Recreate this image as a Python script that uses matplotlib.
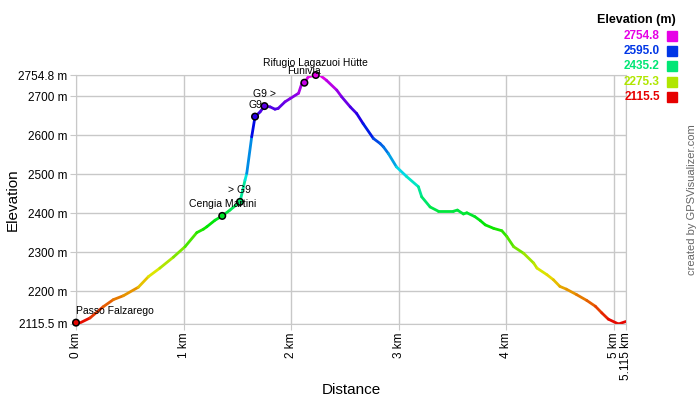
import numpy as np
import matplotlib
matplotlib.use('Agg')
import matplotlib.pyplot as plt
from matplotlib.collections import LineCollection
from matplotlib.colors import LinearSegmentedColormap, Normalize, hsv_to_rgb
from matplotlib.patches import Rectangle

plt.rcParams['font.family'] = ['Liberation Sans', 'DejaVu Sans']

# profile
dist_km = [0.0, 0.02, 0.13, 0.254, 0.347, 0.44, 0.58, 0.673, 0.78, 0.905, 1.014,
           1.123, 1.185, 1.216, 1.293, 1.36, 1.432, 1.525, 1.572, 1.588, 1.634,
           1.665, 1.712, 1.753, 1.805, 1.85, 1.88, 1.944, 1.99, 2.07, 2.10, 2.124,
           2.16, 2.23, 2.27, 2.33, 2.425, 2.47, 2.55, 2.61, 2.67, 2.765, 2.828,
           2.86, 2.905, 2.98, 3.075, 3.184, 3.215, 3.293, 3.37, 3.51, 3.547,
           3.603, 3.635, 3.71, 3.76, 3.806, 3.884, 3.96, 4.007, 4.07, 4.163,
           4.256, 4.287, 4.38, 4.44, 4.50, 4.56, 4.655, 4.75, 4.83, 4.89, 4.95,
           5.045, 5.115]
elev_m = [2117, 2116, 2131, 2160, 2178, 2188, 2210, 2237, 2259, 2287, 2314,
          2350, 2359, 2365, 2382, 2393, 2408, 2429, 2485, 2502, 2596,
          2648, 2660, 2675, 2673, 2667, 2669, 2686, 2694, 2708, 2733, 2735,
          2750, 2754.8, 2754, 2741, 2716, 2699, 2673, 2656, 2630, 2592, 2579,
          2570, 2553, 2519, 2494, 2468, 2442, 2416, 2405, 2405, 2408,
          2398, 2401, 2391, 2381, 2370, 2361, 2355, 2340, 2314, 2297,
          2272, 2259, 2242, 2229, 2212, 2205, 2191, 2176, 2161, 2144, 2128,
          2115.5, 2122]

# waypoints
wpt_names = ['Passo Falzarego', 'Cengia Martini', '> G9', 'G9', 'G9 >',
             'Funivia', 'Rifugio Lagazuoi Hütte']
wpt_km = [0.0, 1.36, 1.525, 1.665, 1.753, 2.124, 2.23]
wpt_elev = [2119, 2393, 2429, 2648, 2675, 2735, 2754.8]

y_ticks = [2115.5, 2200, 2300, 2400, 2500, 2600, 2700, 2754.8]
x_ticks = [0, 1, 2, 3, 4, 5, 5.115]
legend_vals = [2754.8, 2595.0, 2435.2, 2275.3, 2115.5]

ymin, ymax = 2115.5, 2754.8
xmax = 5.115

# hue runs red -> magenta over the elevation range
hues = np.linspace(0, 300 / 360, 11)
cmap = LinearSegmentedColormap.from_list(
    'elev', [hsv_to_rgb((h, 1.0, 0.9)) for h in hues])
norm = Normalize(ymin, ymax)

fig = plt.figure(figsize=(7, 4), dpi=100)
ax = fig.add_axes([76 / 700, 1 - 324 / 400, 550 / 700, 249 / 400])

x = np.array(dist_km)
y = np.array(elev_m)
pts = np.column_stack([x, y]).reshape(-1, 1, 2)
segs = np.concatenate([pts[:-1], pts[1:]], axis=1)
lc = LineCollection(segs, cmap=cmap, norm=norm, linewidth=2, capstyle='round')
lc.set_array((y[:-1] + y[1:]) / 2)
ax.add_collection(lc)

ax.scatter(wpt_km, wpt_elev, s=22, c=wpt_elev, cmap=cmap, norm=norm,
           edgecolors='black', linewidths=1.1, zorder=5, clip_on=False)
for name, wx, wy in zip(wpt_names, wpt_km, wpt_elev):
    ha = 'left' if wx == 0 else 'center'
    ax.annotate(name, (wx, wy), xytext=(0, 5), textcoords='offset points',
                ha=ha, va='bottom', fontsize=7.5, color='black', zorder=6)

ax.set_xlim(0, xmax)
ax.set_ylim(ymin, ymax)
ax.set_xticks(x_ticks)
ax.set_xticklabels([f'{t:g} km' for t in x_ticks], rotation=90, fontsize=8.5)
ax.set_yticks(y_ticks)
ax.set_yticklabels([f'{t:g} m' for t in y_ticks], fontsize=8.5)
ax.tick_params(length=4, color='#c8c8c8', pad=2)
ax.grid(True, color='#c8c8c8', linewidth=1)
ax.set_axisbelow(True)
for s in ax.spines.values():
    s.set_color('#c8c8c8')

ax.set_xlabel('Distance', fontsize=11)
ax.set_ylabel('Elevation', fontsize=11)
ax.xaxis.set_label_coords(0.5, -0.235)
ax.yaxis.set_label_coords(-0.102, 0.498)

# legend
fig.text(676 / 700, 1 - 20 / 400, 'Elevation (m)', ha='right', va='center',
         fontsize=9, fontweight='bold')
for i, v in enumerate(legend_vals):
    yy = 1 - (36 + 15.2 * i) / 400
    col = cmap(norm(v))
    fig.text(660 / 700, yy, f'{v:.1f}', ha='right', va='center', fontsize=8.5,
             fontweight='bold', color=col)
    fig.patches.append(Rectangle((667 / 700, yy - 5 / 400), 10 / 700, 10 / 400,
                                 transform=fig.transFigure, color=col))

fig.text(692 / 700, 1 - 200 / 400, 'created by GPSVisualizer.com', rotation=90,
         ha='center', va='center', fontsize=8, color='#666666')

fig.savefig('out.png', dpi=100)
